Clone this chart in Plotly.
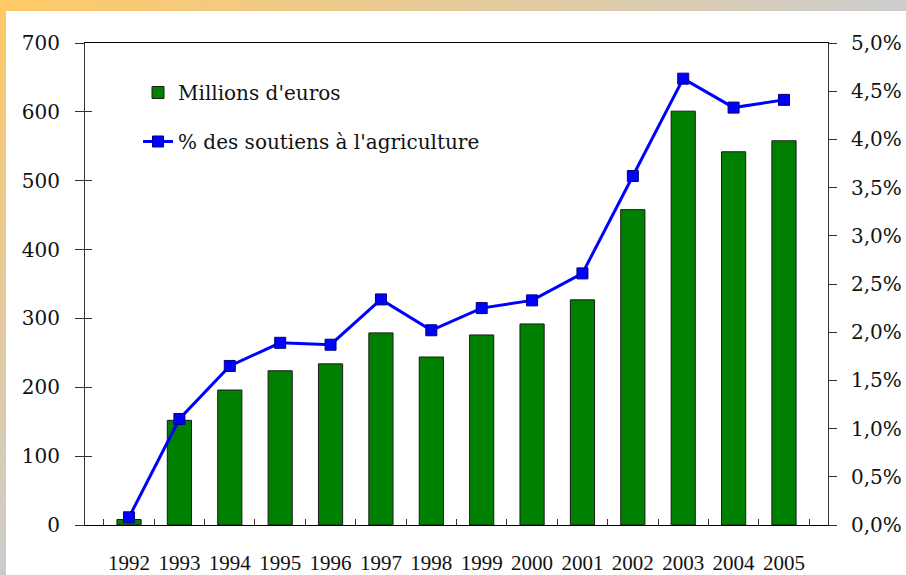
import plotly.graph_objects as go

years = ["1992", "1993", "1994", "1995", "1996", "1997", "1998", "1999",
         "2000", "2001", "2002", "2003", "2004", "2005"]
millions_euros = [8, 152, 196, 224, 234, 279, 244, 276, 292, 327, 458, 601, 542, 558]
pct_soutiens = [0.08, 1.10, 1.65, 1.89, 1.87, 2.34, 2.02, 2.25, 2.33, 2.61, 3.62, 4.63, 4.33, 4.41]

W, H = 906, 575
ML, MR, MT, MB = 85, 78, 43, 50
PW, PH = W - ML - MR, H - MT - MB

FONT_X = "Times New Roman"
FONT = "DejaVu Serif"

fig = go.Figure()
fig.add_trace(go.Bar(
    x=years, y=millions_euros, name="Millions d'euros",
    marker=dict(color="#008000", line=dict(color="#1a1a1a", width=1)),
    width=0.48, yaxis="y", legendgroup="a",
))
fig.add_trace(go.Scatter(
    x=years, y=pct_soutiens, name="% des soutiens à l'agriculture",
    mode="lines+markers", yaxis="y2", legendgroup="b",
    line=dict(color="#0000FF", width=3),
    marker=dict(symbol="square", size=11, color="#0000FF",
                line=dict(color="#000080", width=1)),
))
fig.add_trace(go.Scatter(x=years, y=millions_euros, mode="none", yaxis="y3",
                         showlegend=False, hoverinfo="skip"))

border_svg = (
    "data:image/svg+xml;utf8,"
    "<svg xmlns='http://www.w3.org/2000/svg' width='906' height='575' preserveAspectRatio='none'>"
    "<defs>"
    "<linearGradient id='h' x1='0' y1='0' x2='1' y2='0'>"
    "<stop offset='0' stop-color='%23FFC966'/><stop offset='1' stop-color='%23CCCCCC'/></linearGradient>"
    "<linearGradient id='v' x1='0' y1='0' x2='0' y2='1'>"
    "<stop offset='0' stop-color='%23FFC966'/><stop offset='1' stop-color='%23CCCCCC'/></linearGradient>"
    "</defs>"
    "<rect x='0' y='0' width='906' height='11' fill='url(%23h)'/>"
    "<rect x='0' y='0' width='6' height='575' fill='url(%23v)'/>"
    "</svg>"
)

fig.update_layout(
    width=W, height=H,
    margin=dict(l=ML, r=MR, t=MT, b=MB, pad=0, autoexpand=False),
    paper_bgcolor="white", plot_bgcolor="rgba(0,0,0,0)",
    separators=", ",
    font=dict(family=FONT, size=20, color="#111111"),
    showlegend=True,
    legend=dict(x=(138 - ML) / PW, y=1 - (73 - MT) / PH, xanchor="left", yanchor="top",
                bgcolor="rgba(0,0,0,0)", font=dict(size=20, family=FONT),
                traceorder="grouped", tracegroupgap=20, itemwidth=30),
    bargap=0.52,
    images=[dict(source=border_svg, xref="paper", yref="paper",
                 x=-ML / PW, y=1 + MT / PH, sizex=W / PW, sizey=H / PH,
                 xanchor="left", yanchor="top", sizing="stretch", layer="below")],
    xaxis=dict(
        type="category", showline=True, linecolor="#000000", linewidth=1, mirror=True,
        ticks="inside", tickson="boundaries", ticklen=6, tickcolor="#333333",
        showgrid=False, tickfont=dict(size=21, family=FONT_X), ticklabelstandoff=19,
        tickangle=0, automargin=False,
    ),
    yaxis=dict(
        range=[0, 700], dtick=100, showline=True, linecolor="#333333", linewidth=1,
        ticks="outside", ticklen=9, tickcolor="#333333", showgrid=False, zeroline=False,
        tickfont=dict(size=20, family=FONT), ticklabelstandoff=11, automargin=False,
    ),
    yaxis3=dict(
        range=[0, 700], dtick=100, overlaying="y", side="left", showline=False,
        ticks="inside", ticklen=7, tickcolor="#333333", showgrid=False, zeroline=False,
        showticklabels=False, automargin=False,
    ),
    yaxis2=dict(
        range=[0, 5], dtick=0.5, overlaying="y", side="right", showline=True,
        linecolor="#333333", linewidth=1, ticks="outside", ticklen=8, tickcolor="#333333",
        showgrid=False, zeroline=False, tickformat=".1f", ticksuffix="%",
        tickfont=dict(size=20, family=FONT), ticklabelstandoff=10, automargin=False,
    ),
)

fig.write_html("out.html", config={"displayModeBar": False},
               post_script="document.body.style.margin='0';")
